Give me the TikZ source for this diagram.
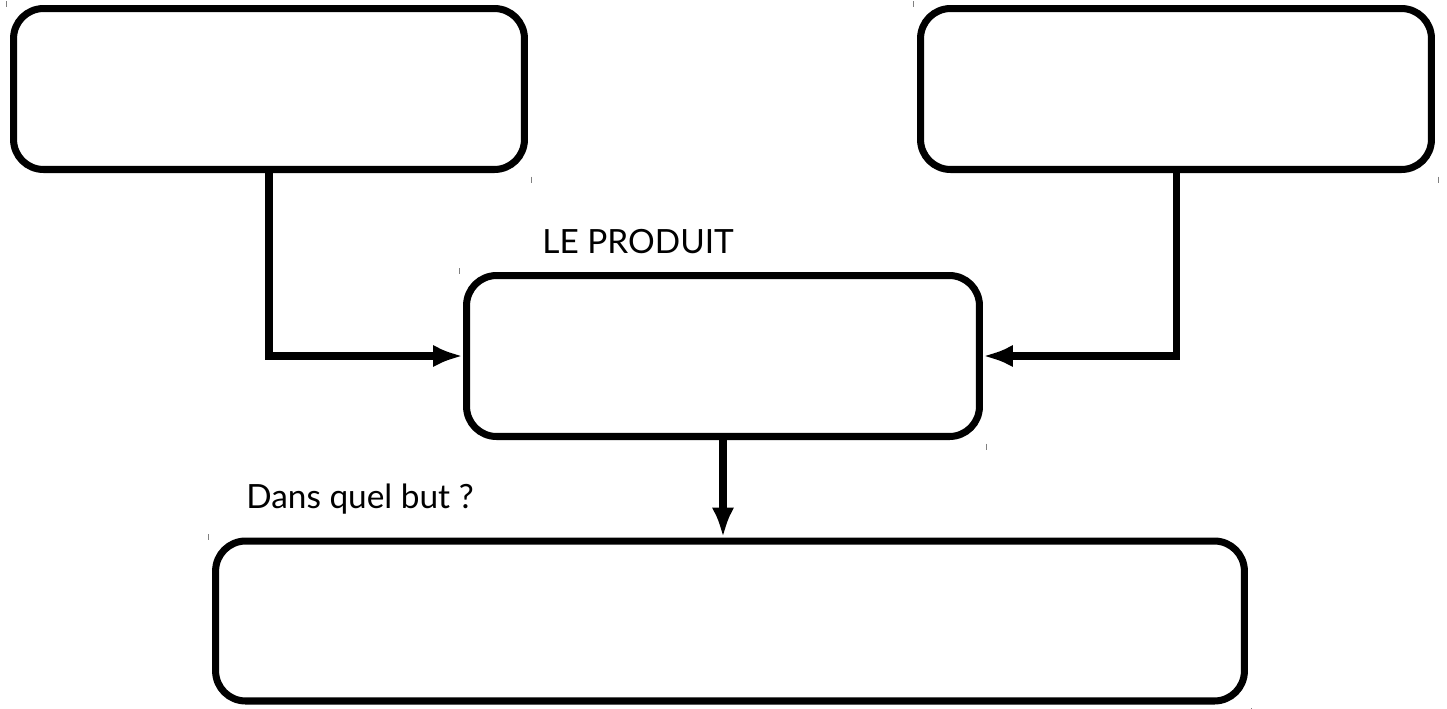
\documentclass[tikz,border=0pt]{standalone}
\usepackage{fontspec}
\setmainfont{Lato}
\usetikzlibrary{arrows.meta}

\tikzstyle{box}=[draw, rounded corners=0.6cm, line width=4pt, inner sep=0pt]
\tikzstyle{conn}=[line width=4pt, ->]
\tikzstyle{caption}=[font=\fontsize{19}{22}\selectfont, inner sep=0pt, anchor=base west]
\tikzstyle{cornermark}=[draw=gray, line width=0.6pt]

\begin{document}
\begin{tikzpicture}[x=0.02cm, y=-0.02cm, >={Latex[length=0.6cm,width=0.45cm]}]
            \useasboundingbox (0,0) rectangle (1447,708);
            \node[box, minimum width=10.22cm, minimum height=3.22cm] at (269,89) (tl) {};
            \node[box, minimum width=10.22cm, minimum height=3.22cm] at (1176,89) (tr) {};
            \node[box, minimum width=10.26cm, minimum height=3.22cm] at (723,356) (mid) {};
            \node[box, minimum width=20.58cm, minimum height=3.2cm] at (730,621) (bot) {};
            \node[caption] at (542,253) (produit) {LE PRODUIT};
            \node[caption] at (246,508) (but) {Dans quel but ?};
            \draw[conn] (tl.south) |- (mid.west);
            \draw[conn] (tr.south) |- (mid.east);
            \draw[conn] (mid.south) -- (mid.south |- bot.north);
            % small corner marks
            \foreach \b in {tl,tr,mid,bot} {
                \draw[cornermark] ([shift={(-2pt,2pt)}]\b.north west) -- ++(0,6);
                \draw[cornermark] ([shift={(2pt,-2pt)}]\b.south east) -- ++(0,6);
            }
        \end{tikzpicture}
\end{document}
